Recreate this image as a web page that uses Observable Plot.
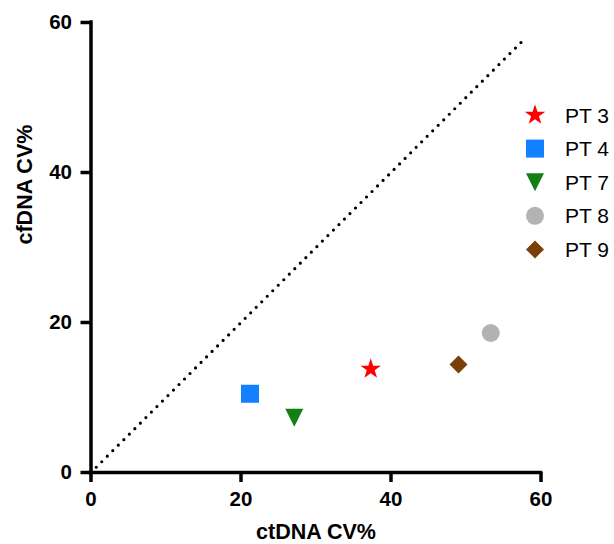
<!DOCTYPE html>
<html>
<head>
<meta charset="utf-8">
<script src="https://cdn.jsdelivr.net/npm/d3@7"></script>
<script src="https://cdn.jsdelivr.net/npm/@observablehq/plot@0.6"></script>
<style>
  html, body { margin: 0; padding: 0; background: #fff; }
  #chart { width: 614px; height: 544px; overflow: hidden; }
  svg { font-family: "Liberation Sans", Arial, Helvetica, sans-serif; }
</style>
</head>
<body>
<div id="chart"></div>
<script>
// ---- data ----
const patients = ["PT 3", "PT 4", "PT 7", "PT 8", "PT 9"];
const ctDNA = [37.3, 21.2, 27.1, 53.3, 49.0];
const cfDNA = [13.8, 10.5, 7.3, 18.6, 14.4];
const colors = ["#FF0000", "#1280FF", "#128012", "#B3B3B3", "#7A3F05"];
const shapes = ["star", "square", "triangleDown", "circle", "diamond"];
const identityLine = [0.7, 58];
const ticks = [0, 20, 40, 60];
const xTitle = "ctDNA CV%";
const yTitle = "cfDNA CV%";

// ---- custom symbols (GraphPad-like) ----
const symbolDefs = {
  star: {draw(ctx, size) {
    const r = Math.sqrt(size / Math.PI) * 1.2, ri = r * 0.382;
    for (let i = 0; i < 10; i++) {
      const a = -Math.PI / 2 + i * Math.PI / 5, rr = i % 2 ? ri : r;
      const px = rr * Math.cos(a), py = rr * Math.sin(a);
      i ? ctx.lineTo(px, py) : ctx.moveTo(px, py);
    }
    ctx.closePath();
  }},
  square: {draw(ctx, size) {
    const r = Math.sqrt(size / Math.PI);
    ctx.moveTo(-r, -r); ctx.lineTo(r, -r); ctx.lineTo(r, r); ctx.lineTo(-r, r); ctx.closePath();
  }},
  triangleDown: {draw(ctx, size) {
    const r = Math.sqrt(size / Math.PI);
    ctx.moveTo(-r, -r); ctx.lineTo(r, -r); ctx.lineTo(0, r); ctx.closePath();
  }},
  circle: {draw(ctx, size) {
    const r = Math.sqrt(size / Math.PI);
    ctx.moveTo(r, 0); ctx.arc(0, 0, r, 0, 2 * Math.PI);
  }},
  diamond: {draw(ctx, size) {
    const r = Math.sqrt(size / Math.PI);
    ctx.moveTo(0, -r); ctx.lineTo(r, 0); ctx.lineTo(0, r); ctx.lineTo(-r, 0); ctx.closePath();
  }}
};
const symbolRange = shapes.map(s => symbolDefs[s]);

const points = patients.map((p, i) => ({name: p, x: ctDNA[i], y: cfDNA[i]}));
const diag = identityLine.map(v => ({v}));

const AX = 3.5;
const plot = Plot.plot({
  width: 614,
  height: 544,
  marginLeft: 90.5,
  marginRight: 73.5,
  marginTop: 22,
  marginBottom: 72,
  style: {fontFamily: '"Liberation Sans", Arial, Helvetica, sans-serif', background: "#fff"},
  x: {domain: [0, 60], ticks: ticks},
  y: {domain: [0, 60], ticks: ticks},
  color: {domain: patients, range: colors},
  symbol: {domain: patients, range: symbolRange},
  marks: [
    Plot.line(diag, {x: "v", y: "v", stroke: "#000", strokeWidth: 3.2, strokeDasharray: "0 7.8", strokeLinecap: "round"}),
    Plot.axisX({ticks: ticks, tickSize: 10, tickPadding: 9, strokeWidth: AX, fontSize: 20.5, fontWeight: "bold", fill: "#000", label: null}),
    Plot.axisY({ticks: ticks, tickSize: 10, tickPadding: 9, strokeWidth: AX, fontSize: 20.5, fontWeight: "bold", fill: "#000", label: null}),
    Plot.ruleX([0], {y1: 0, y2: 60, stroke: "#000", strokeWidth: AX, strokeLinecap: "square"}),
    Plot.ruleY([0], {x1: 0, x2: 60, stroke: "#000", strokeWidth: AX, strokeLinecap: "square"}),
    Plot.dot(points, {x: "x", y: "y", fill: "name", symbol: "name", r: 9, stroke: null}),
    Plot.text([xTitle], {frameAnchor: "bottom", dy: 66.5, text: d => d, lineAnchor: "bottom", fontSize: 21.5, fontWeight: "bold", fill: "#000"}),
    Plot.text([yTitle], {frameAnchor: "left", dx: -59.5, dy: -3, text: d => d, rotate: -90, lineAnchor: "bottom", fontSize: 21.5, fontWeight: "bold", fill: "#000"})
  ]
});

// ---- legend (drawn with the same symbol/colour scales) ----
const svg = d3.select(plot);
const symScale = plot.scale("symbol");
const colScale = plot.scale("color");
const lg = svg.append("g").attr("transform", "translate(535,115)");
patients.forEach((p, i) => {
  const row = lg.append("g").attr("transform", `translate(0,${i * 33.6})`);
  const sym = symbolRange[symScale.domain.indexOf(p)];
  row.append("path").attr("d", d3.symbol(sym, Math.PI * 81)()).attr("fill", colors[colScale.domain.indexOf(p)]);
  row.append("text").attr("x", 30).attr("dy", "0.36em").attr("text-anchor", "start")
    .attr("font-size", 21).attr("fill", "#000").text(p);
});

document.getElementById("chart").appendChild(plot);
</script>
</body>
</html>
